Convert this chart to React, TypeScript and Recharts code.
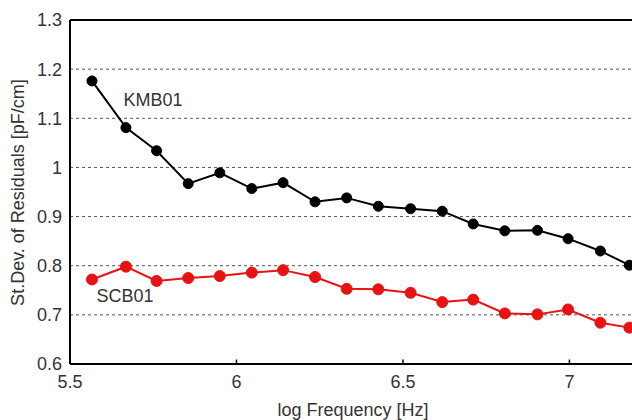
import React from "react";
import {
  LineChart,
  Line,
  XAxis,
  YAxis,
  CartesianGrid,
  ReferenceLine,
  ReferenceDot,
} from "recharts";

const logFreq = [
  5.566, 5.668, 5.76, 5.855, 5.95, 6.046, 6.14, 6.236, 6.331, 6.426, 6.523,
  6.618, 6.711, 6.806, 6.904, 6.996, 7.093, 7.18,
];
const kmb01 = [
  1.176, 1.081, 1.034, 0.967, 0.989, 0.957, 0.969, 0.93, 0.938, 0.921, 0.916,
  0.911, 0.885, 0.871, 0.872, 0.855, 0.83, 0.801,
];
const scb01 = [
  0.772, 0.798, 0.769, 0.775, 0.779, 0.786, 0.791, 0.777, 0.753, 0.752, 0.745,
  0.726, 0.731, 0.703, 0.701, 0.711, 0.684, 0.674,
];
const xTicks = [5.5, 6, 6.5, 7];
const yTicks = [0.6, 0.7, 0.8, 0.9, 1, 1.1, 1.2, 1.3];
const seriesNames = ["KMB01", "SCB01"];
const labelPos = [
  { x: 5.749, y: 1.137 },
  { x: 5.665, y: 0.74 },
];

const data = logFreq.map((f, i) => ({ f, kmb: kmb01[i], scb: scb01[i] }));

const FONT = "'Liberation Sans', Arial, sans-serif";
const TXT = "#333";

const YLabel = (props: any) => {
  const vb = props.viewBox || {};
  const cx = vb.x + 18;
  const cy = vb.y + vb.height / 2 + 0.5;
  return (
    <text
      x={cx}
      y={cy}
      transform={`rotate(-90, ${cx}, ${cy})`}
      textAnchor="middle"
      dominantBaseline="central"
      fontSize={18}
      fill={TXT}
      fontFamily={FONT}
    >
      St.Dev. of Residuals [pF/cm]
    </text>
  );
};

export default function App() {
  return (
    <div
      style={{
        position: "absolute",
        left: 0,
        top: 0,
        width: 632,
        height: 420,
        overflow: "hidden",
        background: "#fff",
      }}
    >
      <LineChart
        width={640}
        height={420}
        data={data}
        margin={{ top: 20, right: 4, bottom: 4, left: 0 }}
        style={{ fontFamily: FONT }}
      >
        <CartesianGrid
          vertical={false}
          stroke="#555"
          strokeDasharray="3 3"
        />
        <XAxis
          type="number"
          dataKey="f"
          domain={[5.5, 7.2]}
          ticks={xTicks}
          allowDataOverflow
          height={52}
          tickSize={0}
          tickMargin={11}
          axisLine={{ stroke: "#000", strokeWidth: 2 }}
          tick={{ fontSize: 18, fill: TXT, fontFamily: FONT }}
          label={{
            value: "log Frequency [Hz]",
            position: "insideBottom",
            offset: 0,
            fontSize: 18,
            fill: TXT,
            fontFamily: FONT,
          }}
        />
        <YAxis
          type="number"
          domain={[0.6, 1.3]}
          ticks={yTicks}
          allowDataOverflow
          width={70}
          tickSize={0}
          tickMargin={8}
          axisLine={{ stroke: "#000", strokeWidth: 2 }}
          tick={{ fontSize: 18, fill: TXT, fontFamily: FONT }}
          label={<YLabel />}
        />
        <ReferenceLine y={1.3} stroke="#000" strokeWidth={2} />
        {xTicks.slice(1).map((t) => (
          <ReferenceLine
            key={t}
            segment={[
              { x: t, y: 0.6 },
              { x: t, y: 0.609 },
            ]}
            stroke="#000"
            strokeWidth={1.5}
          />
        ))}
        <Line
          type="linear"
          dataKey="kmb"
          stroke="#000"
          strokeWidth={2}
          dot={{ r: 5, fill: "#000", stroke: "#000", strokeWidth: 1 }}
          isAnimationActive={false}
        />
        <Line
          type="linear"
          dataKey="scb"
          stroke="#e81212"
          strokeWidth={2}
          dot={{ r: 5.5, fill: "#e81212", stroke: "#e81212", strokeWidth: 1 }}
          isAnimationActive={false}
        />
        {seriesNames.map((n, i) => (
          <ReferenceDot
            key={n}
            x={labelPos[i].x}
            y={labelPos[i].y}
            r={0}
            stroke="none"
            fill="none"
            label={{
              value: n,
              position: "center",
              fontSize: 18,
              fill: TXT,
              fontFamily: FONT,
            }}
          />
        ))}
      </LineChart>
    </div>
  );
}
